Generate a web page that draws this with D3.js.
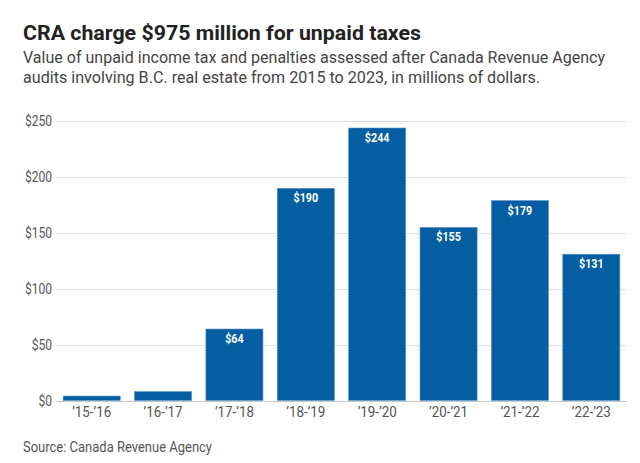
<!DOCTYPE html>
<html>
<head>
<meta charset="utf-8">
<script src="https://cdn.jsdelivr.net/npm/d3@7"></script>
<style>
  html, body { margin: 0; padding: 0; background: #fff; }
  svg { display: block; font-family: Roboto, "Noto Sans", sans-serif; }
</style>
</head>
<body>
<svg id="chart" width="640" height="463"></svg>
<script>
const categories = ["\u201915-\u201916", "\u201916-\u201917", "\u201917-\u201918", "\u201918-\u201919", "\u201919-\u201920", "\u201920-\u201921", "\u201921-\u201922", "\u201922-\u201923"];
const values = [4, 8, 64, 190, 244, 155, 179, 131];
const showLabel = [false, false, true, true, true, true, true, true];
const yTicks = [0, 50, 100, 150, 200, 250];
const titleText = "CRA charge $975 million for unpaid taxes";
const subtitleLines = [
  "Value of unpaid income tax and penalties assessed after Canada Revenue Agency",
  "audits involving B.C. real estate from 2015 to 2023, in millions of dollars."
];
const subtitleWidths = [582, 517];
const sourceText = "Source: Canada Revenue Agency";

const svg = d3.select("#chart");
const condense = 0.86;

function squeeze(sel, factor) {
  sel.each(function() {
    const len = this.getComputedTextLength();
    d3.select(this).attr("textLength", len * factor).attr("lengthAdjust", "spacingAndGlyphs");
  });
}
function fitTo(sel, width) {
  sel.attr("textLength", width).attr("lengthAdjust", "spacingAndGlyphs");
}

// Title
const title = svg.append("text")
  .attr("x", 23).attr("y", 39.5)
  .attr("font-size", 20.5).attr("font-weight", 700).attr("fill", "#222")
  .text(titleText);
fitTo(title, 398);

// Subtitle
const sub = svg.append("g").attr("fill", "#444").attr("font-size", 17);
sub.selectAll("text").data(subtitleLines).join("text")
  .attr("x", 23).attr("y", (d, i) => 62.5 + i * 20)
  .attr("textLength", (d, i) => subtitleWidths[i])
  .attr("lengthAdjust", "spacingAndGlyphs")
  .text(d => d);

const x = d3.scaleBand().domain(categories).range([56, 627]).paddingInner(0.2).paddingOuter(0.1);
const y = d3.scaleLinear().domain([0, 250]).range([400.5, 121.3]);

// gridlines
svg.append("g").selectAll("line").data(yTicks).join("line")
  .attr("x1", 56).attr("x2", 627)
  .attr("y1", d => Math.round(y(d)) + 0.5).attr("y2", d => Math.round(y(d)) + 0.5)
  .attr("stroke", d => d === 0 ? "#c8c8c8" : "#dedede").attr("stroke-width", 1.2);

// y tick labels
const yl = svg.append("g").attr("fill", "#555").attr("font-size", 14).attr("text-anchor", "end");
yl.selectAll("text").data(yTicks).join("text")
  .attr("x", 52).attr("y", d => y(d) + 5)
  .text(d => "$" + d);
squeeze(yl.selectAll("text"), condense);

// bars
svg.append("g").selectAll("rect").data(values).join("rect")
  .attr("x", (d, i) => x(categories[i]))
  .attr("width", x.bandwidth())
  .attr("y", d => y(d))
  .attr("height", d => y(0) - y(d))
  .attr("fill", "#045ea1")
  .attr("stroke", "#5b94c4").attr("stroke-width", 0.6);

// bar labels
const bl = svg.append("g").attr("fill", "#fff").attr("font-size", 12.5).attr("font-weight", 700).attr("text-anchor", "middle");
bl.selectAll("text").data(values.map((v, i) => ({v, i})).filter(d => showLabel[d.i])).join("text")
  .attr("x", d => x(categories[d.i]) + x.bandwidth() / 2)
  .attr("y", d => y(d.v) + 14)
  .text(d => "$" + d.v);
squeeze(bl.selectAll("text"), condense);

// x labels
const xl = svg.append("g").attr("fill", "#555").attr("font-size", 14.5).attr("text-anchor", "middle");
xl.selectAll("text").data(categories).join("text")
  .attr("x", d => x(d) + x.bandwidth() / 2)
  .attr("y", 417)
  .text(d => d);
squeeze(xl.selectAll("text"), 0.92);

// source
const src = svg.append("text")
  .attr("x", 23).attr("y", 452)
  .attr("font-size", 14).attr("fill", "#555")
  .text(sourceText);
fitTo(src, 189);
</script>
</body>
</html>
